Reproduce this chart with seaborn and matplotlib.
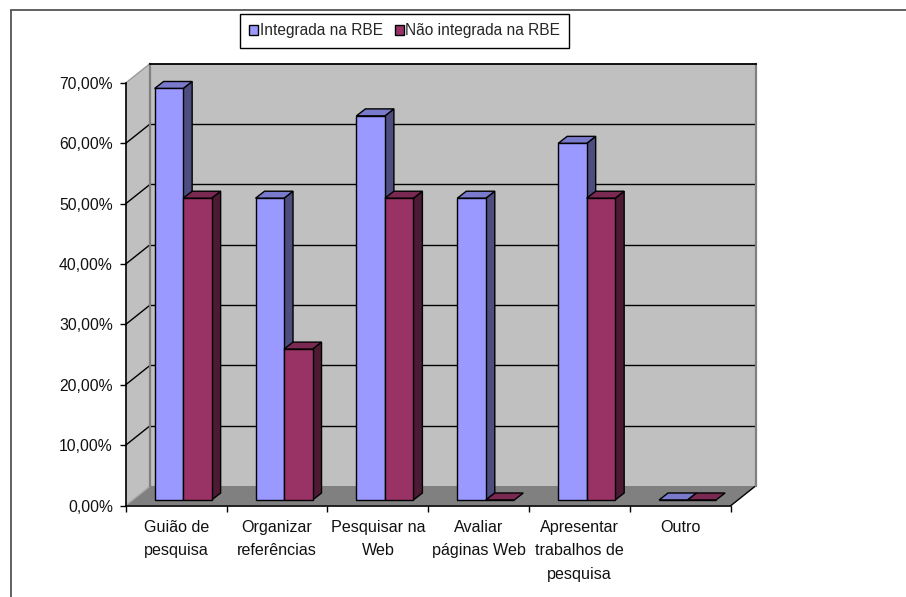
import matplotlib
matplotlib.use("Agg")
import matplotlib.pyplot as plt
from matplotlib.lines import Line2D
from matplotlib.patches import Polygon
import pandas as pd
import seaborn as sns

categories = ["Guião de\npesquisa", "Organizar\nreferências", "Pesquisar na\nWeb",
              "Avaliar\npáginas Web", "Apresentar\ntrabalhos de\npesquisa", "Outro"]
integrada = [68.18, 50.0, 63.64, 50.0, 59.09, 0.0]
nao_integrada = [50.0, 25.0, 50.0, 0.0, 50.0, 0.0]
series_names = ["Integrada na RBE", "Não integrada na RBE"]
y_ticks = [0, 10, 20, 30, 40, 50, 60, 70]

BLUE, BLUE_TOP, BLUE_SIDE = "#9999FF", "#7A7ACC", "#4D4D80"
RED, RED_TOP, RED_SIDE = "#993366", "#7A2952", "#4D1A33"
WALL, FLOOR, EDGE = "#C0C0C0", "#808080", "#808080"

W, H = 906, 597
DPI = 100
sns.set_theme(style="white")
plt.rcParams["font.family"] = ["Liberation Sans", "DejaVu Sans"]
plt.rcParams["axes.linewidth"] = 1.0
FS_Y = 11.3
FS_X = 11.6
FS_LEG = 11.2

fig = plt.figure(figsize=(W / DPI, H / DPI), dpi=DPI, facecolor="white")


def axes_px(left, top, right, bottom, **kw):
    """Add axes from pixel edges measured from the top-left corner."""
    return fig.add_axes([left / W, 1 - bottom / H, (right - left) / W, (bottom - top) / H], **kw)


FRONT = (125.7, 83.0, 731.0, 505.5)
DEPTH = (24.5, -19.5)      # wall plane relative to the front plane, in pixels
BAR_SHIFT = (7.0, -5.5)    # bar fronts relative to the front plane
BAR_DEPTH = (9.0, -7.0)    # thickness of each bar


def shifted(box, d):
    l, t, r, b = box
    return (l + d[0], t + d[1], r + d[0], b + d[1])


# Back wall with its gridlines
wall = axes_px(*shifted(FRONT, DEPTH), zorder=1)
wall.set_facecolor(WALL)
wall.set_xlim(0, 1)
wall.set_ylim(0, 70)
wall.set_xticks([])
wall.set_yticks([])
for s in ("left", "right"):
    wall.spines[s].set_color(EDGE)
    wall.spines[s].set_linewidth(1.6)
wall.spines["bottom"].set_visible(False)
wall.spines["top"].set_color("black")
wall.spines["top"].set_linewidth(1.3)
for v in y_ticks[1:-1]:
    wall.axhline(v, color="black", lw=1.0)

# Front plane carries the axes, ticks and labels
front = axes_px(*FRONT, zorder=3)
front.patch.set_alpha(0)
front.set_xlim(-0.5, 5.5)
front.set_ylim(0, 70)
for s in ("top", "right"):
    front.spines[s].set_visible(False)
for s in ("left", "bottom"):
    front.spines[s].set_color("black")
    front.spines[s].set_linewidth(1.2)
front.set_yticks(y_ticks)
front.set_yticklabels([f"{v:.2f}%".replace(".", ",") for v in y_ticks], fontsize=FS_Y, color="#111111")
front.tick_params(axis="y", left=True, length=4.3, width=1.0, pad=5, color="black")
front.set_xticks(range(len(categories)))
front.set_xticklabels(categories, fontsize=FS_X, color="#111111", linespacing=1.7)
front.tick_params(axis="x", which="major", bottom=False, length=0, pad=10.5)
front.set_xticks([i - 0.5 for i in range(len(categories) + 1)], minor=True)
front.tick_params(axis="x", which="minor", bottom=True, length=4.6, width=1.0, color="black")

# Left wall and floor join the front plane to the back wall
to_px = front.transData.transform
back_px = wall.transData.transform
fa, fb = to_px((-0.5, 0)), to_px((5.5, 0))
ft = to_px((-0.5, 70))
ba, bb = back_px((0, 0)), back_px((1, 0))
bt = back_px((0, 70))
left_wall = Polygon([fa, ft, bt, ba], closed=True, transform=None, fc=WALL, ec="none", zorder=0.5)
floor = Polygon([fa, fb, bb, ba], closed=True, transform=None, fc=FLOOR, ec="none", zorder=0.6)
wall.add_patch(left_wall)
wall.add_patch(floor)
left_wall.set_clip_on(False)
floor.set_clip_on(False)
for v in y_ticks[1:]:
    p, q = to_px((-0.5, v)), back_px((0, v))
    wall.add_line(Line2D([p[0], q[0]], [p[1], q[1]], transform=None, clip_on=False,
                         color="black" if v < 70 else "#9A9A9A", lw=1.0, zorder=0.7))
wall.add_line(Line2D([fb[0], bb[0]], [fb[1], bb[1]], transform=None, clip_on=False,
                     color="black", lw=1.0, zorder=0.7))
wall.add_line(Line2D([fa[0], ba[0]], [fa[1], ba[1]], transform=None, clip_on=False,
                     color="#AAAAAA", lw=1.0, zorder=0.7))

# Bars stand slightly behind the front plane
bars = axes_px(*shifted(FRONT, BAR_SHIFT), zorder=2)
bars.patch.set_alpha(0)
df = pd.DataFrame({
    "categoria": categories * 2,
    "valor": integrada + nao_integrada,
    "serie": [series_names[0]] * 6 + [series_names[1]] * 6,
})
sns.barplot(data=df, x="categoria", y="valor", hue="serie", hue_order=series_names,
            palette=[BLUE, RED], width=0.565, gap=0, saturation=1, ax=bars,
            edgecolor="black", linewidth=1.0)
bars.set_xlim(-0.5, 5.5)
bars.set_ylim(0, 70)
bars.axis("off")

# Extrude each bar with a top and a side face, painted left to right
off = (BAR_DEPTH[0], -BAR_DEPTH[1])
ordered = sorted((r for r in bars.patches if r.get_width() > 0), key=lambda r: r.get_x())
for k, rect in enumerate(ordered):
    is_blue = k % 2 == 0
    x0, x1 = rect.get_x(), rect.get_x() + rect.get_width()
    h = rect.get_height()
    a, b = bars.transData.transform((x0, h)), bars.transData.transform((x1, h))
    c = bars.transData.transform((x1, 0))
    top_col, side_col = (BLUE_TOP, BLUE_SIDE) if is_blue else (RED_TOP, RED_SIDE)
    z = 2 + 2 * k
    rect.set_zorder(z + 1)
    rect.set_clip_on(False)
    if h > 0:
        bars.add_patch(Polygon([b, c, c + off, b + off], closed=True, transform=None, fc=side_col,
                               ec="black", lw=1.0, zorder=z, clip_on=False))
    bars.add_patch(Polygon([a, b, b + off, a + off], closed=True, transform=None, fc=top_col,
                           ec="black", lw=1.0, zorder=z + 0.5, clip_on=False))

# Legend box above the plot
leg = bars.get_legend()
handles = leg.legend_handles
leg.remove()
legend = fig.legend(handles, series_names, loc="upper left",
                    bbox_to_anchor=(240 / W, 1 - 14 / H), bbox_transform=fig.transFigure,
                    ncol=2, fontsize=FS_LEG, frameon=True, fancybox=False, framealpha=1,
                    edgecolor="black", facecolor="white", handlelength=0.58, handleheight=0.58,
                    handletextpad=0.1, columnspacing=0.75, borderpad=0.6, borderaxespad=0)
legend.get_frame().set_linewidth(1.0)
for handle in legend.legend_handles:
    handle.set_edgecolor("black")
    handle.set_linewidth(1.0)

# Chart area border: top and left edges only reach the visible canvas
fig.add_artist(Line2D([11 / W, 11 / W], [0, 1 - 10 / H], transform=fig.transFigure, color="#555555", lw=1.3))
fig.add_artist(Line2D([11 / W, 1], [1 - 10 / H, 1 - 10 / H], transform=fig.transFigure, color="#555555", lw=1.3))

fig.savefig("out.png", dpi=DPI, facecolor="white")
